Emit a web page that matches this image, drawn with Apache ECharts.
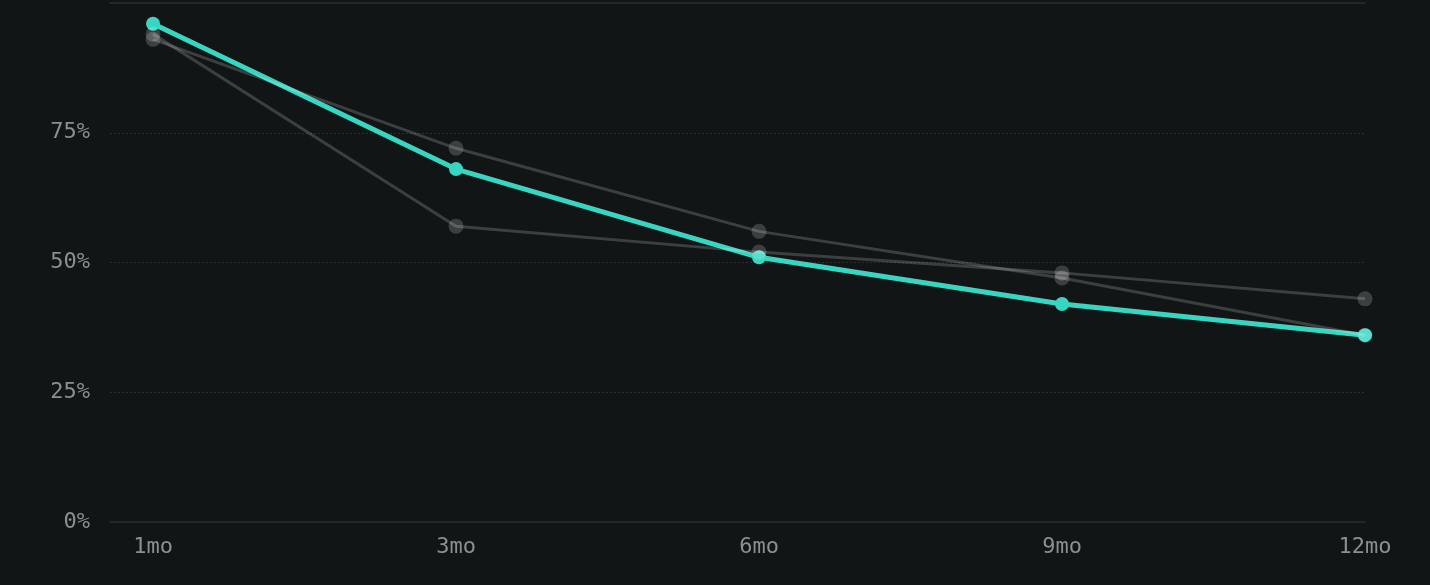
<!DOCTYPE html>
<html><head><meta charset="utf-8">
<script src="https://cdn.jsdelivr.net/npm/echarts@6/dist/echarts.min.js"></script>
<style>html,body{margin:0;padding:0;background:#111516;}#c{width:1430px;height:585px;}</style>
</head><body><div id="c"></div>
<script>
var categories = ['1mo', '3mo', '6mo', '9mo', '12mo'];
var yTicks = [0, 25, 50, 75, 100];
var mainSeries = [96, 68, 51, 42, 36];
var cohortA = [93, 72, 56, 47, 36];
var cohortB = [94, 57, 52, 48, 43];

function pairs(arr) { return arr.map(function (v, i) { return [i, v]; }); }
var grayColor = 'rgba(255,255,255,0.18)';
var labelStyle = { color: '#8a8f90', fontFamily: 'DejaVu Sans Mono', fontSize: 22 };

var chart = echarts.init(document.getElementById('c'));
chart.setOption({
  backgroundColor: '#111516',
  animation: false,
  grid: { left: 110, right: 65, top: 3, bottom: 63 },
  xAxis: [{
    type: 'value', min: -0.142, max: categories.length - 1,
    axisLine: { show: true, lineStyle: { color: '#262b2c', width: 1.5 } },
    axisTick: { show: false },
    splitLine: { show: false },
    axisLabel: Object.assign({
      customValues: categories.map(function (c, i) { return i; }),
      formatter: function (v) { return categories[Math.round(v)]; },
      margin: 14
    }, labelStyle)
  }, {
    type: 'value', position: 'top', min: -0.142, max: categories.length - 1,
    axisLine: { show: true, lineStyle: { color: '#262b2c', width: 1.5 } },
    axisTick: { show: false }, axisLabel: { show: false }, splitLine: { show: false }
  }],
  yAxis: {
    type: 'value', min: yTicks[0], max: yTicks[yTicks.length - 1], interval: 25,
    axisLine: { show: false }, axisTick: { show: false },
    splitLine: { lineStyle: { color: '#2a2f30', type: [2, 2], width: 1 } },
    axisLabel: Object.assign({
      margin: 20,
      formatter: function (v) { return v >= 100 ? '' : v + '%'; }
    }, labelStyle)
  },
  series: [{
    type: 'line', data: pairs(mainSeries), symbol: 'circle', symbolSize: 14,
    lineStyle: { color: '#38d6c1', width: 5 }, itemStyle: { color: '#38d6c1' }, z: 2
  }, {
    type: 'line', data: pairs(cohortA), symbol: 'circle', symbolSize: 15,
    lineStyle: { color: grayColor, width: 3 }, itemStyle: { color: grayColor }, z: 3
  }, {
    type: 'line', data: pairs(cohortB), symbol: 'circle', symbolSize: 15,
    lineStyle: { color: grayColor, width: 3 }, itemStyle: { color: grayColor }, z: 3
  }]
});
</script></body></html>
